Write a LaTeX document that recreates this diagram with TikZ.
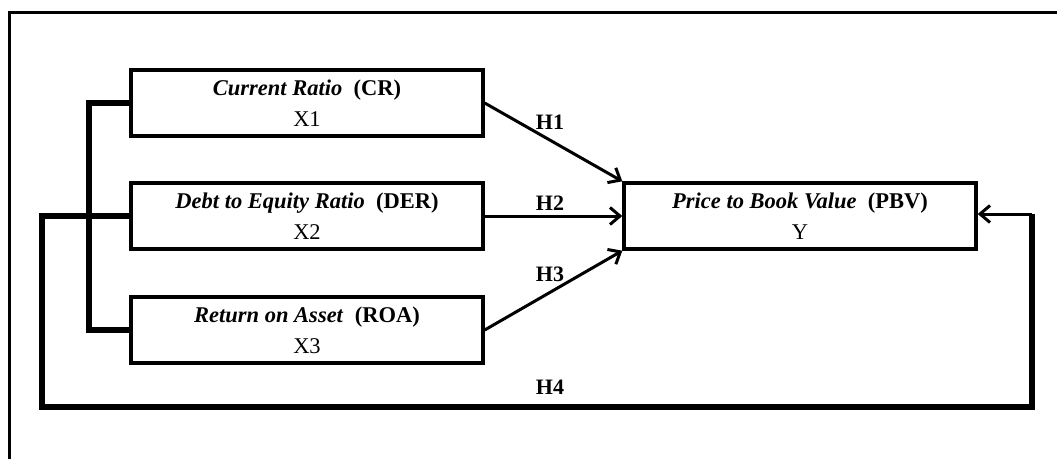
\documentclass[tikz,border=0pt]{standalone}
\usepackage{fontspec}
\setmainfont{Liberation Serif}
\usetikzlibrary{arrows.meta}

\tikzset{
  varbox/.style={draw, line width=3.4pt, minimum width=352pt, minimum height=66pt,
    inner sep=0pt, align=center, font=\fontsize{22.5}{31}\selectfont},
  hyparrow/.style={line width=3pt, -{Straight Barb[length=10pt,width=17pt,line width=3pt]}},
  heavy/.style={line width=5.2pt},
  hyp/.style={font=\fontsize{22}{25}\selectfont\bfseries, inner sep=0pt},
  frame/.style={line width=3pt}
}

\begin{document}
\begin{tikzpicture}[x=1pt,y=-1pt]
\useasboundingbox (0,0) rectangle (1057,458);
\fill[white] (0,0) rectangle (1057,458);

% outer frame (left and top edges)
\draw[frame] (9,470) -- (9,12) -- (1070,12);

% variable boxes
\node[varbox] (cr)  at (307,103) {\textbf{\textit{Current Ratio}}~~\textbf{(CR)}\\X1};
\node[varbox] (der) at (307,216) {\textbf{\textit{Debt to Equity Ratio}}~~\textbf{(DER)}\\X2};
\node[varbox] (roa) at (307,330) {\textbf{\textit{Return on Asset}}~~\textbf{(ROA)}\\X3};
\node[varbox] (pbv) at (800,216) {\textbf{\textit{Price to Book Value}}~~\textbf{(PBV)}\\Y};

% loop points
\coordinate (bl) at (42,216);
\coordinate (bb) at (42,407);
\coordinate (br) at (1032,407);
\coordinate (bt) at (1032,214);

% bracket joining CR and ROA
\draw[heavy] (cr.west) -- (89,103) -- (89,330) -- (roa.west);

% H4 loop from DER round to PBV
\draw[heavy] (der.west) -- (bl) -- (bb) -- (br) -- (bt);
\draw[hyparrow] (bt) -- (bt -| pbv.east);

% direct hypotheses
\draw[hyparrow] (cr.east) -- (pbv.north west);
\draw[hyparrow] (der.east) -- (pbv.west);
\draw[hyparrow] (roa.east) -- (pbv.south west);

% labels
\node[hyp] (h1) at (550,122) {H1};
\node[hyp] (h2) at (550,203) {H2};
\node[hyp] (h3) at (550,274) {H3};
\node[hyp] (h4) at (550,387) {H4};
\end{tikzpicture}
\end{document}
